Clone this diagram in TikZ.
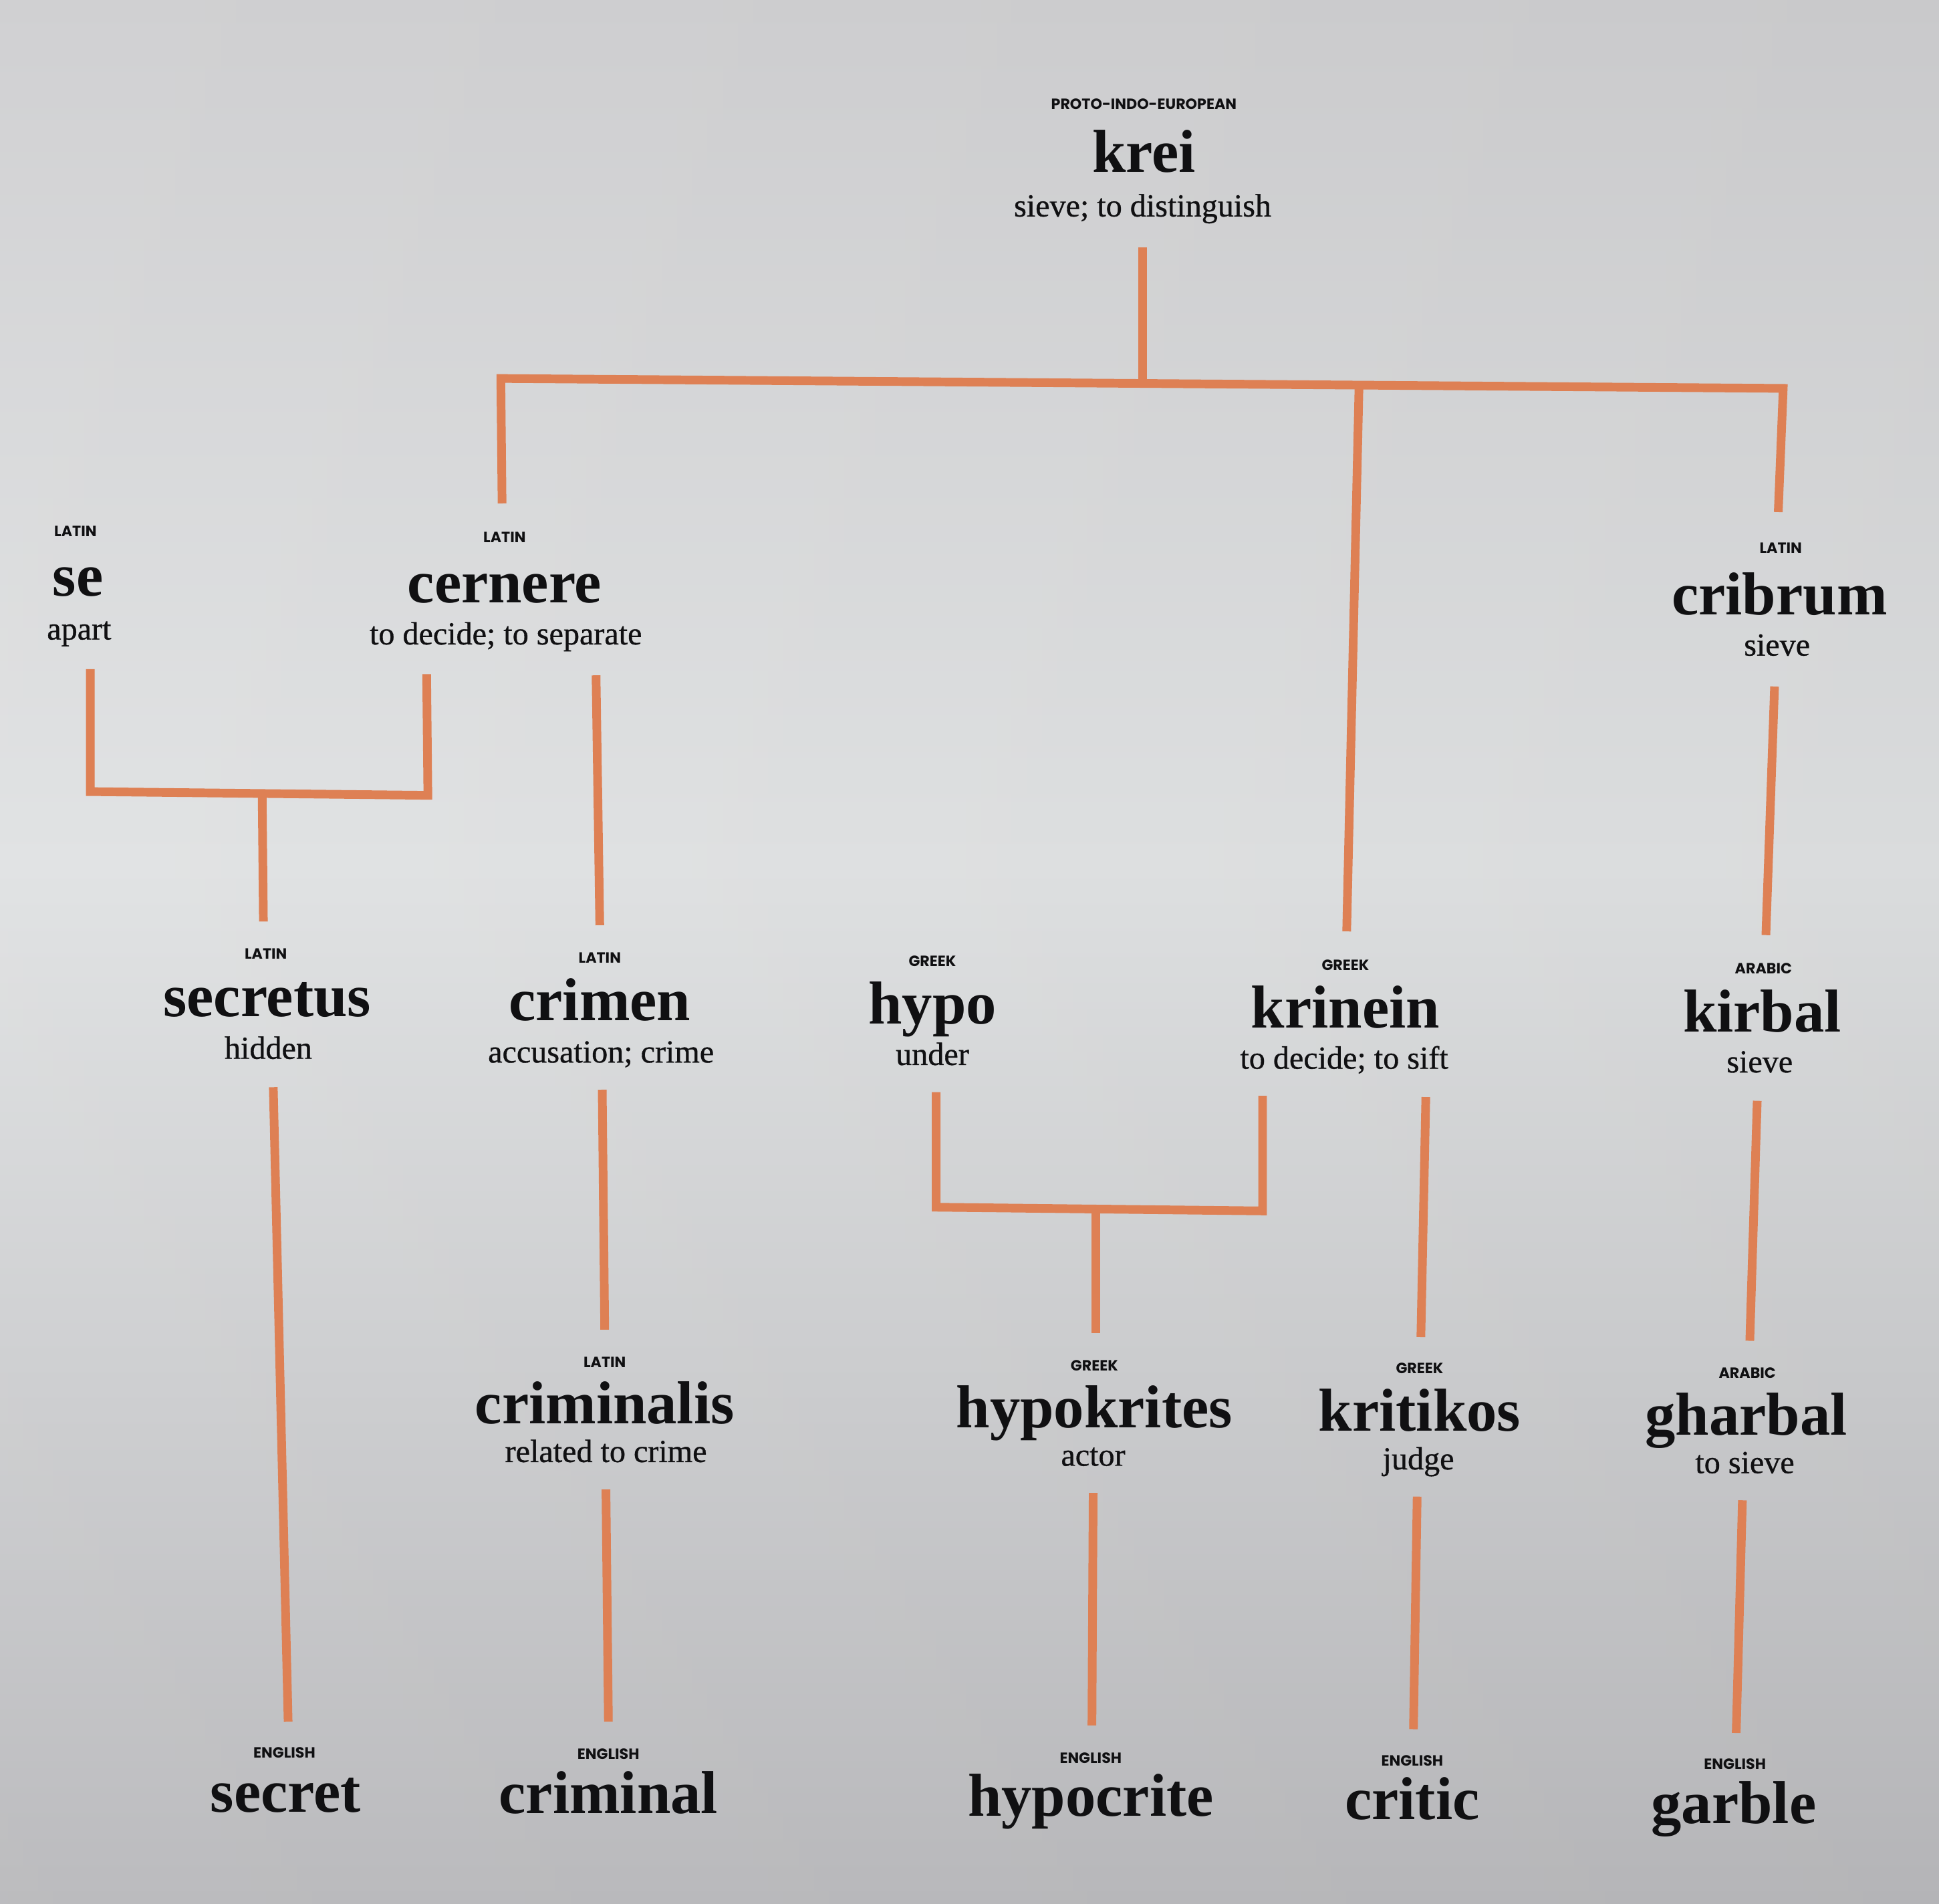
\documentclass[tikz,border=0pt]{standalone}
\usepackage{fontspec}
\setmainfont{Liberation Serif}
\newfontfamily\labfont{Poppins}
\newfontfamily\glossfont[FakeBold=0.7]{Liberation Serif}
\definecolor{wire}{RGB}{222,128,84}
\definecolor{ink}{RGB}{16,16,18}
\definecolor{wallTop}{RGB}{206,206,208}
\definecolor{wallMid}{RGB}{224,226,227}
\definecolor{wallBot}{RGB}{184,184,187}
\begin{document}
\begin{tikzpicture}[x=1pt,y=-1pt,
  lang/.style={anchor=base, inner sep=0pt, font=\labfont\bfseries\fontsize{12}{12}\selectfont, text=ink},
  word/.style={anchor=base, inner sep=0pt, font=\bfseries\fontsize{49}{50}\selectfont, text=ink},
  gloss/.style={anchor=base, inner sep=0pt, font=\glossfont\fontsize{26}{27}\selectfont, text=ink},
  link/.style={draw=wire, line width=7pt, line join=miter}]
\useasboundingbox (0,0) rectangle (1568,1539);
\shade[top color=wallTop, bottom color=wallMid] (0,0) rectangle (1568,700);
\shade[top color=wallMid, bottom color=wallBot] (0,700) rectangle (1568,1539);
\shade[left color=white, right color=black!50, fill opacity=0.06] (0,0) rectangle (1568,1539);

% ---- row 0
\node[lang]  (kreiL) at (925,88.5) {PROTO-INDO-EUROPEAN};
\node[word]  (krei)  at (925,139) {krei};
\node[gloss] (kreiG) at (924,175) {sieve; to distinguish};

% ---- row 1
\node[lang]  (seL) at (61,433.5) {LATIN};
\node[word]  (se)  at (63,482) {se};
\node[gloss] (seG) at (64,517) {apart};

\node[lang]  (cerL) at (408,438.5) {LATIN};
\node[word]  (cer)  at (408,487) {cernere};
\node[gloss] (cerG) at (409,521) {to decide; to separate};

\node[lang]  (criL) at (1440,447.5) {LATIN};
\node[word]  (cri)  at (1439,497) {cribrum};
\node[gloss] (criG) at (1437,530) {sieve};

% ---- row 2
\node[lang]  (secL) at (215,775.5) {LATIN};
\node[word]  (sec)  at (216,822) {secretus};
\node[gloss] (secG) at (217,856) {hidden};

\node[lang]  (crmL) at (485,778.5) {LATIN};
\node[word]  (crm)  at (485,825) {crimen};
\node[gloss] (crmG) at (486,859) {accusation; crime};

\node[lang]  (hypL) at (754,781.5) {GREEK};
\node[word]  (hyp)  at (754,828) {hypo};
\node[gloss] (hypG) at (754,861) {under};

\node[lang]  (krnL) at (1088,784.5) {GREEK};
\node[word]  (krn)  at (1088,831) {krinein};
\node[gloss] (krnG) at (1087,864) {to decide; to sift};

\node[lang]  (kirL) at (1426,787.5) {ARABIC};
\node[word]  (kir)  at (1425,834) {kirbal};
\node[gloss] (kirG) at (1423,867) {sieve};

% ---- row 3
\node[lang]  (crlL) at (489,1105.5) {LATIN};
\node[word]  (crl)  at (489,1151) {criminalis};
\node[gloss] (crlG) at (490,1182) {related to crime};

\node[lang]  (hykL) at (885,1108.5) {GREEK};
\node[word]  (hyk)  at (885,1154) {hypokrites};
\node[gloss] (hykG) at (884,1185) {actor};

\node[lang]  (kriL) at (1148,1110.5) {GREEK};
\node[word]  (kri)  at (1148,1157) {kritikos};
\node[gloss] (kriG) at (1147,1188) {judge};

\node[lang]  (ghaL) at (1413,1114.5) {ARABIC};
\node[word]  (gha)  at (1412,1160) {gharbal};
\node[gloss] (ghaG) at (1411,1191) {to sieve};

% ---- row 4 (English)
\node[lang] (e1L) at (230,1421.5) {ENGLISH};
\node[word] (e1)  at (231,1465) {secret};
\node[lang] (e2L) at (492,1422.5) {ENGLISH};
\node[word] (e2)  at (492,1466) {criminal};
\node[lang] (e3L) at (882,1425.5) {ENGLISH};
\node[word] (e3)  at (882,1468) {hypocrite};
\node[lang] (e4L) at (1142,1427.5) {ENGLISH};
\node[word] (e4)  at (1142,1471) {critic};
\node[lang] (e5L) at (1403,1430.5) {ENGLISH};
\node[word] (e5)  at (1402,1474) {garble};

% ---- connector end points
\coordinate (kreiB) at (924,200);
\coordinate (kreiJ) at (924,308);
\coordinate (busL)  at (405,306);
\coordinate (busR)  at (1442,314);
\coordinate (cerT)  at (406,407);
\coordinate (criT)  at (1438,414);
\coordinate (krnJ)  at (1099,311);
\coordinate (krnT)  at (1089,753);

\coordinate (seB)   at (73,541);
\coordinate (seJ)   at (73,640);
\coordinate (cerJ)  at (346,643);
\coordinate (cerB1) at (345,545);
\coordinate (secJ)  at (212,642);
\coordinate (secT)  at (213,745);

\coordinate (cerB2) at (482,546);
\coordinate (crmT)  at (485,748);
\coordinate (criB)  at (1435,555);
\coordinate (kirT)  at (1428,756);

\coordinate (secB)  at (221,879);
\coordinate (e1T)   at (233,1392);
\coordinate (crmB)  at (487,881);
\coordinate (crlT)  at (489,1075);
\coordinate (crlB)  at (490,1204);
\coordinate (e2T)   at (492,1392);

\coordinate (hypB)  at (757,883);
\coordinate (hypJ)  at (757,976);
\coordinate (krnJ2) at (1021,979);
\coordinate (krnB1) at (1021,886);
\coordinate (hykJ)  at (886,978);
\coordinate (hykT)  at (886,1078);

\coordinate (krnB2) at (1153,887);
\coordinate (kriT)  at (1149,1081);
\coordinate (kirB)  at (1421,890);
\coordinate (ghaT)  at (1415,1084);

\coordinate (hykB)  at (884,1207);
\coordinate (e3T)   at (883,1395);
\coordinate (kriB)  at (1146,1210);
\coordinate (e4T)   at (1143,1398);
\coordinate (ghaB)  at (1409,1213);
\coordinate (e5T)   at (1404,1401);

% ---- connectors
\draw[link] (kreiB) -- (kreiJ);
\draw[link] (cerT) -- (busL) -- (busR) -- (criT);
\draw[link] (krnJ) -- (krnT);

\draw[link] (seB) -- (seJ) -- (cerJ) -- (cerB1);
\draw[link] (secJ) -- (secT);
\draw[link] (cerB2) -- (crmT);
\draw[link] (criB) -- (kirT);

\draw[link] (secB) -- (e1T);
\draw[link] (crmB) -- (crlT);
\draw[link] (crlB) -- (e2T);

\draw[link] (hypB) -- (hypJ) -- (krnJ2) -- (krnB1);
\draw[link] (hykJ) -- (hykT);
\draw[link] (krnB2) -- (kriT);
\draw[link] (kirB) -- (ghaT);

\draw[link] (hykB) -- (e3T);
\draw[link] (kriB) -- (e4T);
\draw[link] (ghaB) -- (e5T);
\end{tikzpicture}
\end{document}
